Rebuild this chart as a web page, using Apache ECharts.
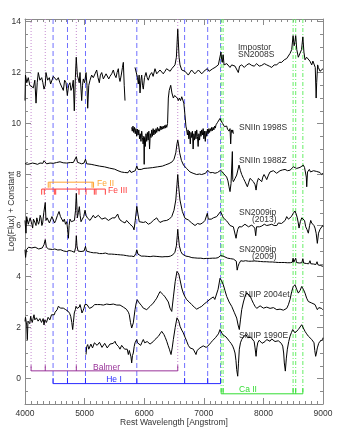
<!DOCTYPE html>
<html><head><meta charset="utf-8">
<script src="https://cdn.jsdelivr.net/npm/echarts@6/dist/echarts.min.js"></script>
<style>html,body{margin:0;padding:0;background:#fff}#c{width:354px;height:439px}</style>
</head><body><div id="c"></div>
<script>
// ---------- data ----------
const yTickValues = [0, 2, 4, 6, 8, 10, 12, 14];
const spectrumNames = ['Impostor', 'SN2008S', 'SNIIn 1998S', 'SNIIn 1988Z', 'SN2009ip', '(2013)', 'SN2009ip', '(2009)', 'SNIIP 2004et', 'SNIIP 1990E'];

const sn2008S = [[4000,10.9],[4008,11.9],[4030,11.6],[4055,11.8],[4080,11.5],[4112,11.55],[4140,11.4],[4165,11.7],[4185,10.8],[4205,11.6],[4223,12.0],[4250,11.7],[4280,11.8],[4300,11.6],[4319,11.35],[4340,11.5],[4352,12.0],[4380,11.7],[4408,11.8],[4430,11.55],[4448,11.6],[4475,11.85],[4503,11.9],[4530,11.7],[4559,11.8],[4585,11.6],[4616,11.55],[4643,11.3],[4665,11.7],[4688,11.6],[4710,11.1],[4732,11.5],[4755,11.6],[4772,11.3],[4789,11.4],[4810,11.7],[4827,10.5],[4845,11.8],[4860,12.6],[4878,11.9],[4894,11.9],[4910,11.6],[4923,12.0],[4951,10.9],[4965,11.5],[4978,11.75],[5000,11.6],[5024,12.0],[5040,11.5],[5052,10.6],[5070,11.5],[5091,11.7],[5118,11.9],[5146,11.8],[5175,11.95],[5203,12.1],[5225,11.8],[5247,11.6],[5265,11.9],[5287,12.0],[5315,11.75],[5342,11.8],[5360,11.95],[5381,12.0],[5405,11.75],[5426,11.85],[5455,11.95],[5482,12.1],[5505,11.9],[5527,11.8],[5545,12.0],[5566,12.15],[5580,11.8],[5594,11.65],[5615,11.9],[5635,12.2],[5650,12.4],[5665,11.5],[5678,10.9],[5690,'-'],
[5846,12.2],[5874,12.25],[5888,11.8],[5901,11.55],[5915,11.9],[5930,11.2],[5945,11.7],[5958,11.9],[5972,11.5],[5985,11.35],[6005,11.8],[6030,12.0],[6050,11.8],[6069,11.7],[6095,11.9],[6126,12.0],[6150,11.85],[6181,12.15],[6210,11.95],[6237,11.95],[6265,12.1],[6294,12.15],[6320,11.95],[6349,12.05],[6375,12.15],[6405,12.2],[6435,12.05],[6462,12.15],[6490,12.2],[6517,12.3],[6540,12.6],[6563,13.7],[6585,12.6],[6601,12.3],[6630,12.1],[6656,12.15],[6685,12.05],[6713,12.0],[6740,11.9],[6769,11.95],[6795,12.1],[6824,12.05],[6850,11.95],[6881,12.0],[6910,12.1],[6937,12.05],[6965,11.95],[6992,12.0],[7025,12.1],[7059,12.15],[7090,12.05],[7116,12.1],[7150,12.15],[7188,12.2],[7215,12.15],[7244,12.3],[7270,12.35],[7288,12.8],[7300,12.5],[7311,12.4],[7324,12.7],[7340,12.3],[7356,12.25],[7385,12.35],[7411,12.3],[7440,12.2],[7468,12.3],[7495,12.35],[7524,12.25],[7555,12.3],[7579,12.0],[7600,12.25],[7636,12.3],[7680,12.2],[7720,12.3],[7760,12.35],[7804,12.28],[7845,12.25],[7888,12.35],[7930,12.25],[7972,12.28],[8015,12.35],[8056,12.3],[8100,12.25],[8140,12.2],[8180,12.3],[8224,12.3],[8265,12.4],[8307,12.4],[8350,12.5],[8391,12.55],[8420,12.6],[8447,12.75],[8475,12.9],[8498,13.45],[8515,13.05],[8528,13.2],[8542,13.45],[8560,12.9],[8586,12.6],[8615,12.65],[8640,12.9],[8662,13.4],[8680,12.8],[8698,12.5],[8725,12.6],[8754,12.55],[8780,12.45],[8811,12.3],[8830,12.45],[8849,12.4],[8870,12.2],[8885,11.0],[8894,11.6],[8910,12.3],[8922,12.2],[8950,12.05],[8978,12.0],[9000,12.15]];

const sn1998S = [[5790,9.85],[5800,9.7],[5812,9.9],[5825,9.65],[5838,9.85],[5850,9.6],[5862,9.8],[5874,9.5],[5886,9.78],[5898,9.55],[5910,9.75],[5922,9.4],[5934,9.6],[5946,9.3],[5958,9.7],[5970,9.45],[5982,9.2],[5994,9.5],[6000,8.4],[6006,9.45],[6018,9.1],[6030,9.6],[6042,9.3],[6054,9.65],[6066,9.35],[6078,9.7],[6090,9.0],[6102,9.6],[6114,9.45],[6126,9.75],[6138,9.5],[6150,9.8],[6162,9.55],[6174,9.75],[6186,9.6],[6198,9.8],[6210,9.65],[6222,9.85],[6234,9.7],[6246,9.8],[6258,9.7],[6270,9.9],[6282,9.75],[6294,9.88],[6306,9.78],[6318,9.9],[6330,9.8],[6342,9.92],[6354,9.82],[6366,9.95],[6378,9.85],[6392,10.0],[6405,11.0],[6420,11.3],[6445,11.5],[6465,11.2],[6489,11.0],[6510,11.1],[6534,11.15],[6555,11.0],[6573,10.9],[6590,11.0],[6610,10.9],[6630,11.05],[6646,11.0],[6665,10.8],[6685,10.3],[6700,9.9],[6713,9.75],[6725,9.55],[6737,9.75],[6749,9.4],[6761,9.7],[6773,9.2],[6785,9.65],[6797,9.45],[6809,9.7],[6821,9.0],[6833,9.6],[6845,9.35],[6857,9.7],[6869,9.4],[6881,9.75],[6893,9.5],[6905,9.1],[6917,9.6],[6929,9.35],[6941,9.7],[6953,9.5],[6965,9.75],[6977,9.55],[6989,9.8],[7001,9.4],[7013,9.7],[7025,9.3],[7037,9.7],[7049,9.5],[7061,9.78],[7073,9.6],[7085,9.8],[7097,9.65],[7109,9.8],[7121,9.7],[7133,9.85],[7145,9.72],[7157,9.85],[7169,9.75],[7181,9.9],[7193,9.82],[7205,9.95],[7217,9.9],[7232,10.05],[7250,10.1],[7272,10.2],[7290,10.1],[7305,10.12],[7317,10.0],[7330,10.02],[7345,9.88],[7356,9.95],[7370,9.82],[7384,9.9],[7398,9.78],[7411,9.85],[7425,9.7],[7440,9.8],[7451,9.2],[7462,9.75],[7475,9.65],[7485,9.75],[7496,9.6]];

const sn1988Z = [[4000,8.43],[4040,8.4],[4084,8.42],[4125,8.45],[4168,8.43],[4210,8.4],[4252,8.45],[4300,8.44],[4319,8.54],[4340,8.5],[4364,8.42],[4420,8.45],[4476,8.44],[4530,8.47],[4587,8.5],[4640,8.46],[4700,8.45],[4760,8.47],[4811,8.47],[4840,8.5],[4861,8.7],[4880,8.48],[4915,8.45],[4951,8.42],[4990,8.45],[5015,8.6],[5035,8.42],[5055,8.4],[5110,8.4],[5168,8.37],[5250,8.33],[5336,8.3],[5420,8.25],[5504,8.21],[5560,8.15],[5616,8.1],[5672,8.08],[5728,8.07],[5756,8.17],[5780,8.08],[5812,8.07],[5850,8.15],[5876,8.33],[5895,8.2],[5912,8.15],[5950,8.2],[5996,8.24],[6060,8.25],[6137,8.27],[6220,8.3],[6305,8.33],[6360,8.38],[6417,8.43],[6470,8.5],[6500,8.6],[6530,8.85],[6550,9.2],[6563,9.35],[6575,9.2],[6595,8.85],[6625,8.55],[6660,8.37],[6710,8.24],[6769,8.1],[6820,8.05],[6880,8.0],[6930,8.02],[6964,8.0],[6992,8.05],[7030,8.05],[7065,8.17],[7104,8.07],[7150,8.08],[7188,8.05],[7230,8.08],[7260,8.1],[7284,8.17],[7328,8.05],[7360,8.0],[7384,7.9],[7405,7.75],[7423,7.52],[7440,7.33],[7457,7.65],[7472,7.7],[7479,8.9],[7486,7.8],[7496,7.72],[7525,7.85],[7552,7.98],[7591,8.37],[7615,8.15],[7636,8.0],[7665,7.85],[7692,7.72],[7731,7.52],[7755,7.7],[7776,7.85],[7805,7.8],[7832,7.72],[7860,7.6],[7877,7.39],[7895,7.7],[7916,7.85],[7945,7.8],[7972,7.72],[7990,7.9],[8011,8.0],[8035,7.9],[8056,7.8],[8085,7.98],[8111,8.1],[8140,8.05],[8167,8.15],[8195,8.1],[8223,8.05],[8250,8.12],[8279,8.15],[8320,8.18],[8363,8.2],[8405,8.15],[8447,8.17],[8475,8.22],[8503,8.3],[8530,8.26],[8559,8.24],[8590,8.3],[8615,8.28],[8645,8.33],[8670,8.37],[8690,8.28],[8705,8.24],[8720,7.9],[8727,7.52],[8740,8.1],[8771,8.2],[8790,8.1],[8811,8.13],[8840,8.15],[8866,8.1],[8895,8.12],[8922,8.07],[8950,8.08],[8978,8.0],[9000,8.05]];

const sn2009ip2013 = [[4000,6.2],[4017,5.7],[4028,6.35],[4039,6.4],[4055,6.05],[4072,6.0],[4086,6.3],[4101,6.35],[4115,6.05],[4128,5.9],[4142,6.25],[4155,6.3],[4170,6.1],[4185,6.0],[4198,6.3],[4212,6.35],[4226,6.05],[4240,6.15],[4254,6.4],[4268,6.3],[4283,6.0],[4297,6.1],[4315,6.5],[4340,6.9],[4352,6.2],[4370,6.3],[4391,6.35],[4410,6.1],[4431,6.15],[4452,6.35],[4476,6.3],[4496,6.1],[4516,6.2],[4545,6.4],[4571,6.55],[4595,6.35],[4616,6.3],[4640,6.15],[4660,6.25],[4680,6.05],[4700,6.15],[4715,5.85],[4728,5.5],[4740,6.0],[4755,6.25],[4778,6.15],[4800,6.1],[4830,6.2],[4848,6.6],[4861,7.26],[4870,6.8],[4878,6.3],[4895,6.5],[4912,6.74],[4925,6.4],[4940,6.15],[4962,6.25],[4985,6.35],[5007,6.6],[5025,6.4],[5046,6.3],[5070,6.25],[5091,6.2],[5118,6.3],[5146,6.4],[5175,6.3],[5203,6.3],[5230,6.4],[5259,6.35],[5288,6.25],[5315,6.2],[5345,6.3],[5371,6.3],[5400,6.2],[5426,6.22],[5465,6.3],[5510,6.3],[5535,6.25],[5555,6.45],[5575,6.3],[5594,6.22],[5636,6.15],[5678,6.1],[5705,6.2],[5734,6.15],[5762,6.05],[5790,6.0],[5810,5.95],[5829,5.83],[5850,6.2],[5876,6.75],[5895,6.45],[5917,6.15],[5950,6.2],[5985,6.12],[6025,6.15],[6069,6.05],[6110,6.1],[6153,6.2],[6180,6.15],[6210,6.3],[6237,6.2],[6265,6.12],[6320,6.18],[6378,6.2],[6420,6.25],[6462,6.35],[6500,6.6],[6530,7.0],[6550,7.6],[6563,8.0],[6575,7.6],[6600,7.0],[6640,6.55],[6685,6.28],[6710,6.3],[6740,6.22],[6770,6.15],[6797,6.1],[6825,6.05],[6853,6.0],[6895,6.08],[6937,6.05],[6980,6.1],[7020,6.2],[7045,6.25],[7059,6.48],[7075,6.25],[7093,6.22],[7125,6.25],[7160,6.3],[7190,6.3],[7217,6.35],[7250,6.4],[7281,6.55],[7300,6.45],[7328,6.3],[7355,6.25],[7384,6.18],[7410,6.1],[7440,6.0],[7468,6.0],[7496,5.95],[7520,5.9],[7541,5.5],[7555,5.7],[7569,5.85],[7590,5.95],[7608,6.0],[7636,5.95],[7664,5.95],[7690,6.05],[7720,6.0],[7750,5.95],[7776,5.95],[7805,6.02],[7832,6.0],[7855,5.9],[7871,5.6],[7885,5.95],[7899,6.0],[7935,5.95],[7972,5.98],[8015,6.05],[8056,6.0],[8095,6.02],[8140,6.05],[8180,6.0],[8224,6.0],[8250,6.1],[8279,6.15],[8305,6.08],[8335,6.1],[8365,6.2],[8391,6.35],[8420,6.25],[8447,6.3],[8470,6.35],[8492,6.45],[8510,6.5],[8530,6.57],[8550,6.45],[8569,6.3],[8585,6.1],[8598,5.9],[8620,6.15],[8643,6.3],[8670,6.35],[8690,6.2],[8710,5.95],[8730,5.85],[8754,5.7],[8775,6.0],[8794,6.2],[8810,6.1],[8828,6.05],[8848,6.0],[8866,5.9],[8885,5.7],[8905,5.3],[8925,5.7],[8950,5.85],[8975,5.8],[8995,6.0],[9000,5.95]];

const sn2009ip2009 = [[4000,5.05],[4010,4.75],[4025,5.05],[4040,5.1],[4060,5.15],[4084,5.2],[4110,5.12],[4140,5.1],[4170,5.15],[4200,5.15],[4230,5.08],[4260,5.1],[4290,5.12],[4319,5.25],[4340,5.45],[4358,5.15],[4370,5.12],[4395,5.08],[4420,5.1],[4460,5.06],[4500,5.08],[4550,5.04],[4600,5.05],[4650,5.0],[4700,4.98],[4740,5.02],[4780,5.0],[4830,4.95],[4850,5.15],[4861,5.6],[4872,5.2],[4890,5.0],[4940,4.98],[4990,5.0],[5015,5.18],[5030,5.0],[5050,4.95],[5100,4.95],[5150,4.93],[5200,4.93],[5250,4.9],[5300,4.9],[5350,4.92],[5400,4.88],[5450,4.88],[5500,4.87],[5550,4.86],[5600,4.85],[5650,4.84],[5700,4.82],[5750,4.8],[5790,4.8],[5830,4.78],[5860,4.9],[5876,5.05],[5895,4.88],[5910,4.82],[5950,4.8],[6000,4.8],[6050,4.79],[6100,4.78],[6150,4.8],[6200,4.79],[6250,4.78],[6300,4.77],[6350,4.78],[6400,4.78],[6440,4.8],[6480,4.85],[6515,4.95],[6540,5.2],[6555,5.6],[6563,5.85],[6572,5.6],[6590,5.2],[6615,4.98],[6640,4.88],[6670,4.84],[6700,4.8],[6750,4.78],[6800,4.74],[6850,4.73],[6900,4.72],[6950,4.72],[7000,4.7],[7040,4.71],[7065,4.76],[7090,4.71],[7150,4.72],[7200,4.72],[7240,4.74],[7281,4.82],[7300,4.8],[7324,4.8],[7345,4.74],[7400,4.72],[7450,4.7],[7500,4.68],[7530,4.66],[7545,4.6],[7560,4.25],[7575,4.4],[7590,4.5],[7620,4.62],[7660,4.6],[7700,4.62],[7750,4.6],[7800,4.6],[7850,4.61],[7900,4.6],[7950,4.59],[8000,4.58],[8050,4.58],[8100,4.57],[8150,4.57],[8200,4.56],[8250,4.55],[8300,4.55],[8350,4.55],[8400,4.54],[8450,4.54],[8485,4.56],[8498,4.72],[8510,4.56],[8530,4.56],[8542,4.72],[8555,4.55],[8600,4.53],[8645,4.54],[8662,4.7],[8675,4.53],[8720,4.51],[8760,4.5],[8782,4.62],[8795,4.5],[8840,4.49],[8880,4.47],[8900,4.58],[8915,4.46],[8960,4.43],[9000,4.4]];

const sn2004et = [[4000,2.24],[4008,2.4],[4017,2.35],[4028,2.1],[4039,1.52],[4050,2.25],[4067,2.3],[4080,2.15],[4095,2.44],[4108,2.3],[4122,2.2],[4136,2.35],[4151,2.5],[4165,2.3],[4179,2.24],[4192,2.38],[4206,2.44],[4220,2.25],[4235,2.18],[4250,2.35],[4264,2.4],[4277,2.2],[4290,2.24],[4305,2.35],[4319,2.1],[4333,2.3],[4347,2.37],[4360,2.2],[4374,2.24],[4388,2.4],[4403,2.46],[4417,2.3],[4431,2.37],[4445,2.5],[4458,2.57],[4475,2.45],[4492,2.5],[4505,2.6],[4520,2.63],[4540,2.7],[4559,2.83],[4580,2.8],[4599,2.76],[4620,2.8],[4643,2.76],[4665,2.72],[4683,2.7],[4705,2.68],[4727,2.63],[4750,2.55],[4767,2.44],[4785,2.2],[4800,1.92],[4812,2.2],[4827,2.57],[4845,2.7],[4856,2.83],[4875,2.75],[4894,2.7],[4910,2.8],[4923,2.9],[4940,2.75],[4956,2.57],[4972,2.65],[4990,2.76],[5005,2.9],[5018,2.96],[5040,2.9],[5062,2.83],[5082,2.75],[5102,2.7],[5125,2.8],[5146,2.83],[5170,2.9],[5191,2.85],[5215,2.9],[5237,2.96],[5262,2.9],[5287,2.83],[5315,2.88],[5342,2.9],[5370,2.92],[5398,2.96],[5425,2.9],[5454,2.85],[5482,2.92],[5510,2.96],[5540,2.88],[5566,2.83],[5595,2.88],[5622,2.9],[5650,2.8],[5678,2.76],[5700,2.72],[5717,2.7],[5735,2.6],[5750,2.5],[5770,2.2],[5790,1.98],[5805,2.05],[5817,2.18],[5832,2.45],[5846,2.7],[5865,2.95],[5884,3.09],[5905,3.0],[5930,2.96],[5958,2.85],[5985,2.76],[6012,2.72],[6042,2.7],[6070,2.75],[6098,2.83],[6125,2.9],[6153,2.96],[6180,3.05],[6210,3.15],[6237,3.28],[6265,3.41],[6294,3.35],[6321,3.28],[6350,3.2],[6378,3.15],[6405,3.0],[6433,2.76],[6462,2.63],[6490,3.2],[6520,3.8],[6550,4.2],[6563,4.26],[6580,4.1],[6601,3.87],[6630,3.55],[6656,3.35],[6685,3.2],[6713,3.09],[6755,3.0],[6797,2.9],[6840,2.8],[6881,2.72],[6925,2.78],[6965,2.83],[7005,2.92],[7049,3.0],[7075,3.05],[7104,3.11],[7130,3.18],[7160,3.2],[7185,3.1],[7205,3.15],[7240,3.5],[7272,3.93],[7295,3.85],[7328,3.67],[7355,3.45],[7384,3.22],[7425,3.0],[7468,2.83],[7510,2.6],[7552,2.37],[7575,2.1],[7596,1.92],[7615,2.3],[7636,2.7],[7665,3.0],[7692,3.22],[7720,3.35],[7748,3.41],[7775,3.25],[7804,3.09],[7832,2.95],[7860,2.83],[7888,2.75],[7916,2.7],[7945,2.85],[7972,2.83],[8000,2.76],[8028,2.7],[8056,2.8],[8084,2.85],[8112,2.75],[8140,2.7],[8168,2.78],[8196,2.83],[8224,2.7],[8252,2.63],[8280,2.72],[8307,2.76],[8335,2.68],[8363,2.63],[8391,2.75],[8419,2.89],[8447,3.1],[8475,3.41],[8500,3.6],[8530,3.68],[8558,3.5],[8586,3.35],[8615,3.45],[8643,3.61],[8670,3.5],[8698,3.35],[8726,3.15],[8754,3.02],[8782,3.0],[8811,2.96],[8838,2.92],[8866,2.9],[8885,2.8],[8905,2.7],[8930,2.78],[8950,2.83],[8975,2.75],[8995,2.7],[9000,2.76]];

const sn1990E = [[5024,0.94],[5035,1.25],[5052,1.33],[5070,1.15],[5091,1.2],[5105,1.35],[5119,1.4],[5133,1.2],[5146,1.27],[5165,1.4],[5191,1.46],[5210,1.3],[5231,1.3],[5250,1.42],[5271,1.4],[5292,1.22],[5315,1.25],[5337,1.38],[5360,1.33],[5380,1.2],[5398,1.25],[5425,1.35],[5454,1.3],[5482,1.38],[5510,1.46],[5530,1.35],[5549,1.4],[5570,1.25],[5594,1.15],[5622,1.3],[5650,1.25],[5672,1.15],[5695,1.09],[5715,1.15],[5734,0.94],[5750,1.1],[5762,1.09],[5778,0.85],[5790,0.61],[5803,0.9],[5817,1.0],[5832,1.25],[5846,1.4],[5860,1.45],[5874,1.53],[5888,1.4],[5901,1.33],[5920,1.4],[5941,1.3],[5962,1.42],[5985,1.53],[6008,1.4],[6030,1.33],[6050,1.45],[6069,1.42],[6098,1.35],[6126,1.4],[6153,1.45],[6181,1.53],[6210,1.55],[6237,1.65],[6265,1.75],[6294,1.85],[6315,1.8],[6332,1.72],[6355,1.6],[6378,1.46],[6400,1.3],[6422,1.15],[6450,0.94],[6470,1.2],[6489,1.53],[6520,2.0],[6550,2.38],[6563,2.4],[6580,2.25],[6601,2.05],[6630,1.9],[6656,1.79],[6685,1.62],[6713,1.46],[6740,1.3],[6769,1.2],[6795,1.22],[6824,1.15],[6845,1.1],[6869,0.94],[6888,1.1],[6908,1.15],[6935,1.2],[6965,1.17],[6990,1.28],[7020,1.3],[7040,1.22],[7059,1.2],[7088,1.32],[7116,1.4],[7145,1.48],[7171,1.53],[7195,1.6],[7217,1.66],[7245,1.75],[7272,1.92],[7295,1.85],[7317,1.72],[7345,1.7],[7373,1.63],[7400,1.55],[7429,1.46],[7457,1.38],[7485,1.27],[7505,1.15],[7524,1.0],[7540,0.7],[7552,0.35],[7569,0.09],[7582,0.6],[7596,1.15],[7615,1.4],[7636,1.53],[7670,1.65],[7708,1.72],[7736,1.6],[7764,1.53],[7790,1.62],[7821,1.6],[7845,1.45],[7860,1.2],[7877,0.87],[7890,1.2],[7905,1.4],[7930,1.5],[7955,1.46],[7978,1.38],[7999,1.33],[8028,1.45],[8056,1.53],[8084,1.5],[8111,1.46],[8140,1.55],[8167,1.53],[8195,1.45],[8223,1.4],[8250,1.48],[8279,1.43],[8300,1.38],[8324,1.27],[8340,1.0],[8351,0.61],[8368,0.29],[8385,0.8],[8402,1.15],[8425,1.45],[8447,1.66],[8470,1.8],[8492,1.92],[8510,1.88],[8530,1.79],[8558,1.85],[8586,1.92],[8615,2.02],[8643,2.11],[8670,1.98],[8698,1.85],[8726,1.75],[8754,1.66],[8782,1.6],[8811,1.53],[8830,1.48],[8849,1.4],[8862,1.1],[8877,0.87],[8890,1.0],[8905,1.2],[8928,1.38],[8950,1.46],[8975,1.5],[8995,1.53],[9000,1.6]];

// identified line wavelengths (Angstrom)
const balmerLines = [4102, 4340, 4861, 6563];
const heILines = [4471, 4713, 5015, 5876, 6678, 7065, 7281];
const caIILines = [7291, 7324, 8498, 8542, 8662];
const feIILines = [4390, 4420, 5125, 5150];
const feIIILines = [4280, 4324, 4492, 4515, 4906, 5024, 5163, 5191, 5348];

// ---------- layout / style constants ----------
const Y_MIN = -1, Y_MAX = 14.1;
const BALMER_Y = 0.3, HEI_Y = -0.2, CAII_Y = -0.6, FEII_Y = 7.7, FEIII_Y = 7.43;
const TICK = 0.22;
const C_BALMER = '#993399', C_BALMER_L = '#c58ad0';
const C_HEI = '#2a2aff', C_HEI_L = '#7070ff';
const C_CAII = '#33dd33', C_CAII_L = '#66ee66';
const C_FEII = '#ffa530', C_FEIII = '#ff3b3b';
const FONT = 'Liberation Sans, Arial, sans-serif';

const series = [];
function seg(data, color, type, z) {
  series.push({type: 'line', data: data, symbol: 'none', silent: true, animation: false,
    lineStyle: {color: color, width: 1, type: type}, z: z || 2, xAxisIndex: 0, yAxisIndex: 0});
}
// vertical identification lines
balmerLines.forEach(l => seg([[l, Y_MAX], [l, BALMER_Y]], C_BALMER_L, [1, 2], 1));
heILines.forEach(l => seg([[l, Y_MAX], [l, HEI_Y]], C_HEI_L, [5, 3], 1));
caIILines.forEach(l => seg([[l, Y_MAX], [l, CAII_Y]], C_CAII_L, [4, 2, 1, 2], 1));
// bars with ticks
seg([[balmerLines[0], BALMER_Y], [balmerLines[balmerLines.length - 1], BALMER_Y]], C_BALMER, 'solid', 3);
balmerLines.forEach(l => seg([[l, BALMER_Y], [l, BALMER_Y + TICK]], C_BALMER, 'solid', 3));
seg([[heILines[0], HEI_Y], [heILines[heILines.length - 1], HEI_Y]], C_HEI, 'solid', 3);
heILines.forEach(l => seg([[l, HEI_Y], [l, HEI_Y + TICK]], C_HEI, 'solid', 3));
seg([[caIILines[0], CAII_Y], [caIILines[caIILines.length - 1], CAII_Y]], C_CAII, 'solid', 3);
caIILines.forEach(l => seg([[l, CAII_Y], [l, CAII_Y + TICK]], C_CAII, 'solid', 3));
seg([[feIILines[0], FEII_Y], [feIILines[feIILines.length - 1], FEII_Y]], C_FEII, 'solid', 3);
feIILines.forEach(l => seg([[l, FEII_Y], [l, FEII_Y - TICK]], C_FEII, 'solid', 3));
seg([[feIIILines[0], FEIII_Y], [feIIILines[feIIILines.length - 1], FEIII_Y]], C_FEIII, 'solid', 3);
feIIILines.forEach(l => seg([[l, FEIII_Y], [l, FEIII_Y - TICK]], C_FEIII, 'solid', 3));
// spectra
[sn2008S, sn1998S, sn1988Z, sn2009ip2013, sn2009ip2009, sn2004et, sn1990E].forEach(d => seg(d, '#000', 'solid', 5));

const axisCol = '#8a8a8a';
function xAx(pos, showLabel) {
  return {type: 'value', min: 4000, max: 9000, interval: 1000, position: pos,
    axisLine: {show: true, onZero: false, lineStyle: {color: axisCol, width: 1}},
    axisTick: {show: true, inside: true, length: 6, lineStyle: {color: axisCol}},
    minorTick: {show: true, splitNumber: 10, length: 3, lineStyle: {color: axisCol}},
    axisLabel: {show: showLabel, fontSize: 8.5, color: '#333', margin: 5, fontFamily: FONT, formatter: v => String(v)},
    splitLine: {show: false}, minorSplitLine: {show: false},
    name: showLabel ? 'Rest Wavelength [Angstrom]' : '', nameLocation: 'middle', nameGap: 14, nameMoveOverlap: false,
    nameTextStyle: {fontSize: 8.5, color: '#333', fontFamily: FONT}};
}
function yMajor(pos, showLabel) {
  return {type: 'value', min: Y_MIN, max: Y_MAX, position: pos,
    axisLine: {show: true, onZero: false, lineStyle: {color: axisCol, width: 1}},
    axisTick: {show: true, inside: true, length: 6, customValues: yTickValues, lineStyle: {color: axisCol}},
    axisLabel: {show: showLabel, customValues: yTickValues, fontSize: 8.5, color: '#333', margin: 4, fontFamily: FONT, formatter: v => String(v)},
    splitLine: {show: false},
    name: showLabel ? 'Log(Flux) + Constant' : '', nameLocation: 'middle', nameRotate: 90, nameGap: 9, nameMoveOverlap: false,
    nameTextStyle: {fontSize: 8.5, color: '#333', fontFamily: FONT}};
}
function yMinor(pos) {
  return {type: 'value', min: Y_MIN, max: Y_MAX, interval: 0.5, position: pos,
    axisLine: {show: false, onZero: false}, axisLabel: {show: false}, splitLine: {show: false},
    axisTick: {show: true, inside: true, length: 3, lineStyle: {color: axisCol}}};
}

const txt = {fontSize: 8.5, fill: '#333', fontFamily: FONT};
function label(x, y, s, fill, align) {
  return {type: 'text', x: x, y: y, silent: true,
    style: Object.assign({}, txt, {text: s, fill: fill || '#333', textVerticalAlign: 'middle', textAlign: align || 'left'})};
}

const chart = echarts.init(document.getElementById('c'), null, {renderer: 'canvas'});
chart.setOption({
  animation: false,
  grid: {left: 25, right: 31, top: 19, bottom: 35, containLabel: false, outerBoundsMode: 'none'},
  xAxis: [xAx('bottom', true), xAx('top', false)],
  yAxis: [yMajor('left', true), yMajor('right', false), yMinor('left'), yMinor('right')],
  series: series,
  graphic: [
    label(238, 47.5, spectrumNames[0]),
    label(238, 54.5, spectrumNames[1]),
    label(239, 127.5, spectrumNames[2]),
    label(239, 160.5, spectrumNames[3]),
    label(239, 212.5, spectrumNames[4]),
    label(252, 219.5, spectrumNames[5]),
    label(239, 249.5, spectrumNames[6]),
    label(252, 257, spectrumNames[7]),
    label(239, 294.5, spectrumNames[8]),
    label(239, 336, spectrumNames[9]),
    label(106.5, 367.5, 'Balmer', C_BALMER, 'center'),
    label(114, 380, 'He I', C_HEI, 'center'),
    label(239, 389.5, 'Ca II', C_CAII),
    label(97, 184, 'Fe II', C_FEII),
    label(108, 191, 'Fe III', C_FEIII)
  ]
});
</script></body></html>
